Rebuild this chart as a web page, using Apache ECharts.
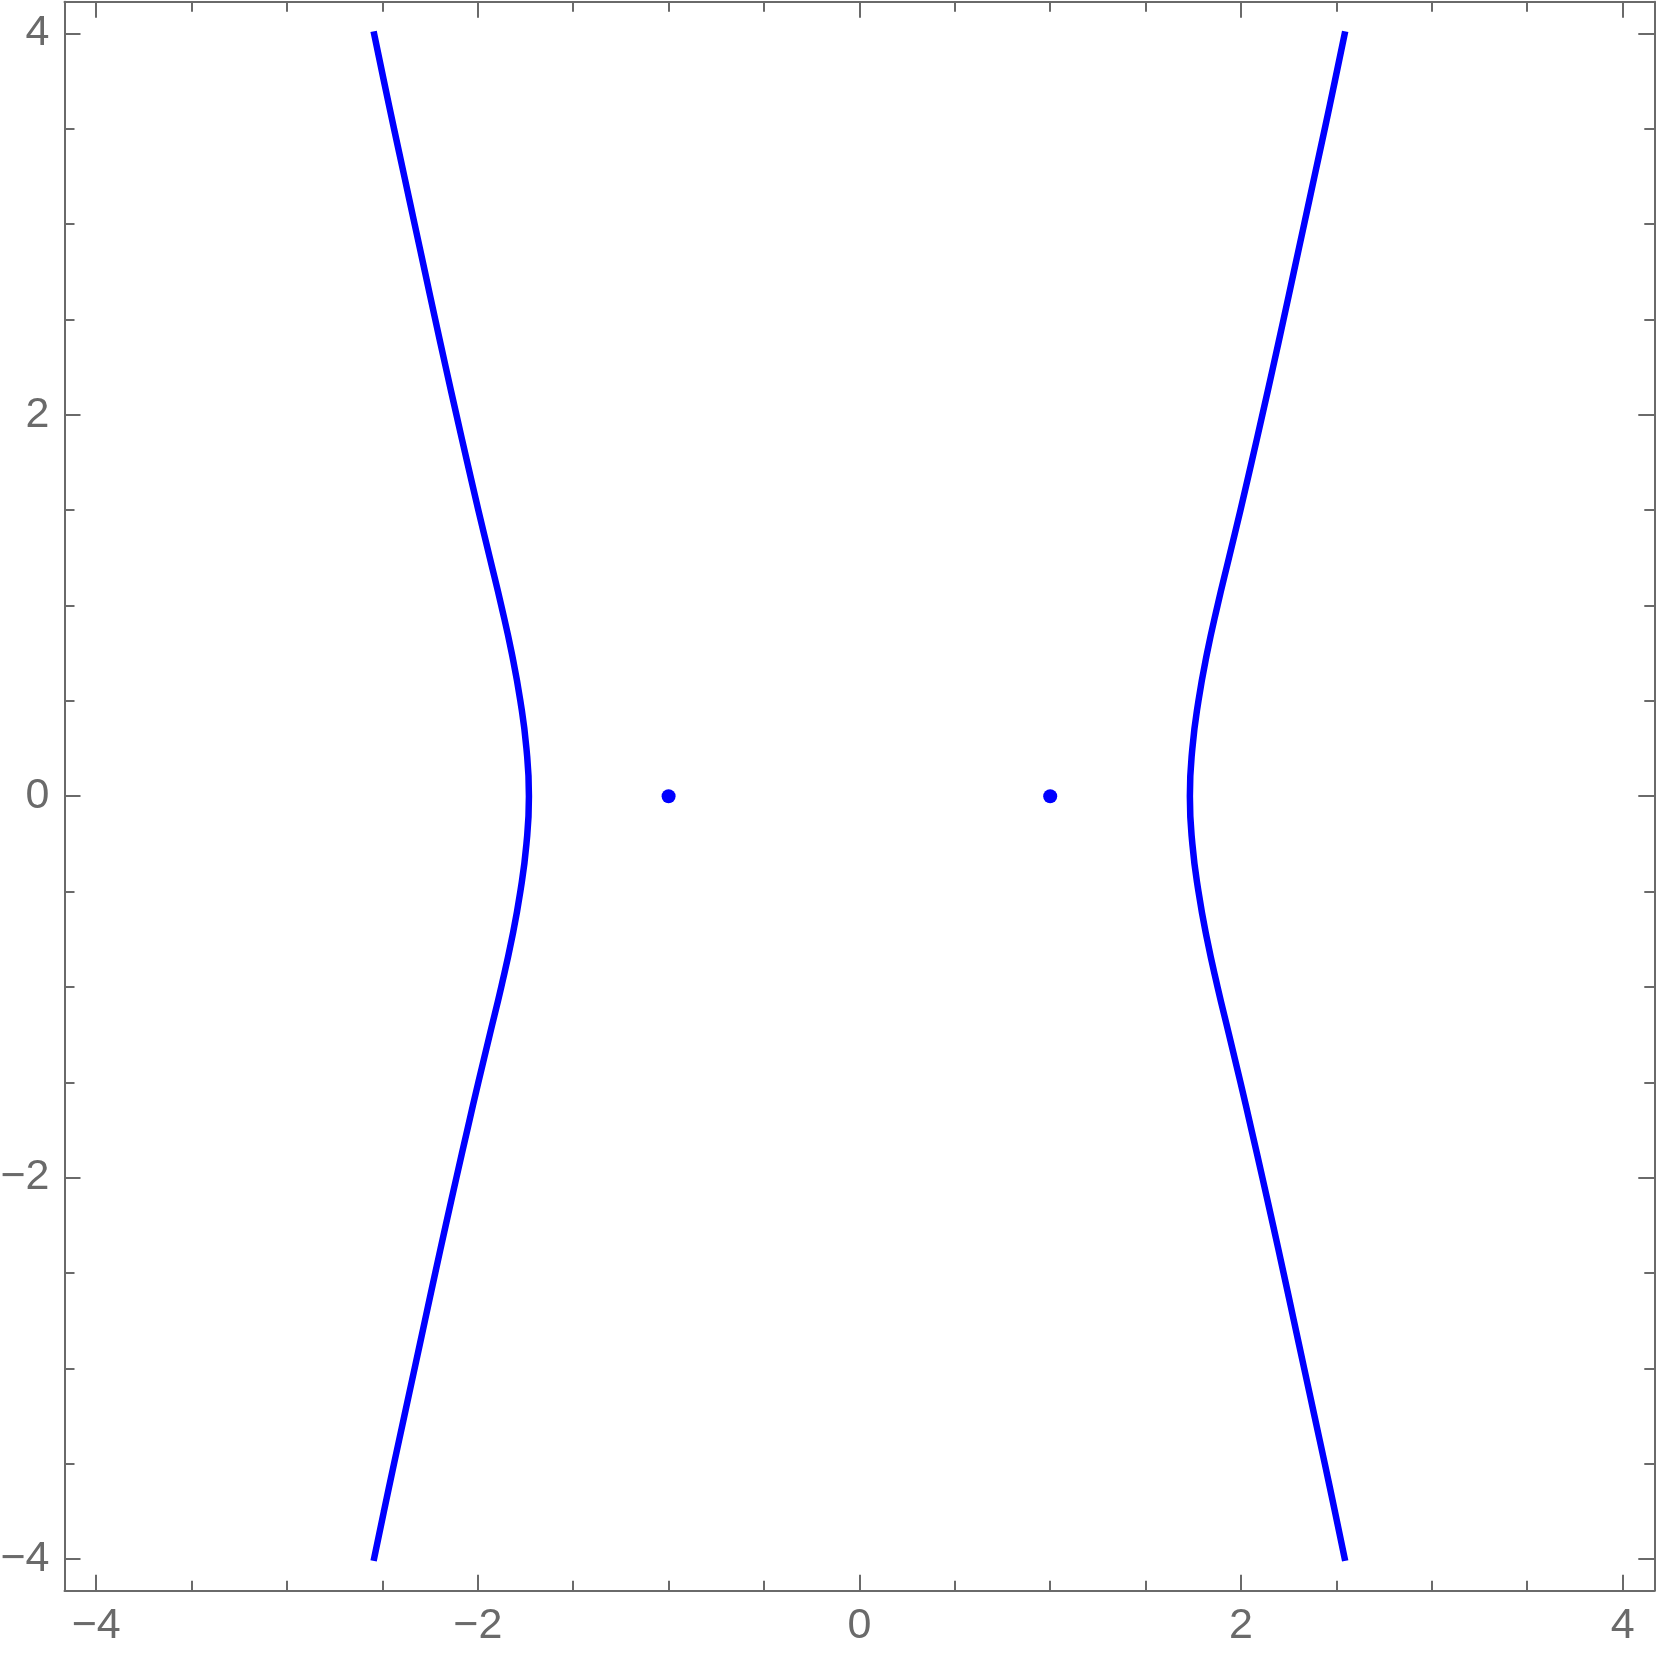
<!DOCTYPE html>
<html>
<head>
<meta charset="utf-8">
<script src="https://cdn.jsdelivr.net/npm/echarts@6/dist/echarts.min.js"></script>
<style>
html,body{margin:0;padding:0;background:#fff;}
#chart{width:1661px;height:1665px;}
</style>
</head>
<body>
<div id="chart"></div>
<script>
// Curve samples (y from top to bottom)
var curveY = [4.01, 3.75, 3.5, 3.25, 3, 2.75, 2.5, 2.25, 2, 1.75, 1.5, 1.25, 1, 0.75, 0.5, 0.25, 0,
  -0.25, -0.5, -0.75, -1, -1.25, -1.5, -1.75, -2, -2.25, -2.5, -2.75, -3, -3.25, -3.5, -3.75, -4.01];
var leftX = [-2.546, -2.492, -2.439, -2.385, -2.331, -2.277, -2.223, -2.168, -2.112, -2.055, -1.997, -1.937, -1.877, -1.822, -1.777, -1.745, -1.732,
  -1.745, -1.777, -1.822, -1.877, -1.937, -1.997, -2.055, -2.112, -2.168, -2.223, -2.277, -2.331, -2.385, -2.439, -2.492, -2.546];
var rightX = [2.546, 2.492, 2.439, 2.385, 2.331, 2.277, 2.223, 2.168, 2.112, 2.055, 1.997, 1.937, 1.877, 1.822, 1.777, 1.745, 1.732,
  1.745, 1.777, 1.822, 1.877, 1.937, 1.997, 2.055, 2.112, 2.168, 2.223, 2.277, 2.331, 2.385, 2.439, 2.492, 2.546];
var pointX = [-1, 1];
var pointY = [0, 0];
var majorTicks = [-4, -2, 0, 2, 4];
var minorTicks = [-3.5, -3, -2.5, -1.5, -1, -0.5, 0.5, 1, 1.5, 2.5, 3, 3.5];

var RANGE = 4.166;
var GRAY = '#6a6a6a';

function fmt(v) { return v < 0 ? '\u2212' + Math.abs(v) : String(v); }

function axis(dim, pos, ticks, len, showLine, showLabel) {
  return {
    type: 'value', position: pos, min: -RANGE, max: RANGE,
    axisLine: { show: showLine, onZero: false, lineStyle: { color: GRAY, width: 2 } },
    axisTick: { show: true, inside: true, length: len, customValues: ticks, lineStyle: { color: GRAY, width: 2 } },
    axisLabel: { show: showLabel, customValues: ticks, formatter: fmt, color: GRAY, fontSize: 43,
      fontFamily: 'Liberation Sans, Arial, sans-serif', margin: dim === 'x' ? 14 : 15 },
    splitLine: { show: false }
  };
}

var leftData = curveY.map(function (y, i) { return [leftX[i], y]; });
var rightData = curveY.map(function (y, i) { return [rightX[i], y]; });
var pts = pointX.map(function (x, i) { return [x, pointY[i]]; });

var chart = echarts.init(document.getElementById('chart'), null, { renderer: 'canvas' });
chart.setOption({
  animation: false,
  backgroundColor: '#ffffff',
  grid: { left: 64.5, right: 6.7, top: 1.7, bottom: 74.3, containLabel: false, outerBoundsMode: 'none' },
  xAxis: [
    axis('x', 'bottom', majorTicks, 16, true, true),
    axis('x', 'bottom', minorTicks, 10, false, false),
    axis('x', 'top', majorTicks, 16, true, false),
    axis('x', 'top', minorTicks, 10, false, false)
  ],
  yAxis: [
    axis('y', 'left', majorTicks, 16, true, true),
    axis('y', 'left', minorTicks, 10, false, false),
    axis('y', 'right', majorTicks, 16, true, false),
    axis('y', 'right', minorTicks, 10, false, false)
  ],
  series: [
    { type: 'line', data: leftData, showSymbol: false, smooth: 0.5,
      lineStyle: { color: '#0000ff', width: 6.5, cap: 'butt', join: 'round' }, xAxisIndex: 0, yAxisIndex: 0 },
    { type: 'line', data: rightData, showSymbol: false, smooth: 0.5,
      lineStyle: { color: '#0000ff', width: 6.5, cap: 'butt', join: 'round' }, xAxisIndex: 0, yAxisIndex: 0 },
    { type: 'scatter', data: pts, symbol: 'circle', symbolSize: 14,
      itemStyle: { color: '#0000ff', opacity: 1 }, xAxisIndex: 0, yAxisIndex: 0 }
  ]
});
</script>
</body>
</html>
